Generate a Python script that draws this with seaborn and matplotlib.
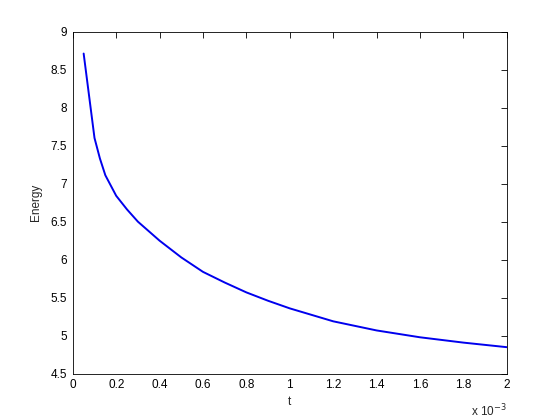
import numpy as np
import pandas as pd
import seaborn as sns
import matplotlib
matplotlib.use('Agg')
import matplotlib.pyplot as plt
from matplotlib.ticker import FuncFormatter

# 값은 그림에서 읽어낸 추정치 (t 는 10^-3 단위)
t_scaled = [0.05, 0.1, 0.125, 0.15, 0.2, 0.25, 0.3, 0.4, 0.5, 0.6, 0.7, 0.8,
            0.9, 1.0, 1.2, 1.4, 1.6, 1.8, 2.0]
energy = [8.71, 7.60, 7.33, 7.11, 6.84, 6.66, 6.50, 6.25, 6.03, 5.84, 5.70,
          5.57, 5.46, 5.36, 5.19, 5.07, 4.98, 4.91, 4.85]
x_ticks = [0, 0.2, 0.4, 0.6, 0.8, 1.0, 1.2, 1.4, 1.6, 1.8, 2.0]
y_ticks = [4.5, 5, 5.5, 6, 6.5, 7, 7.5, 8, 8.5, 9]

df = pd.DataFrame({'t': np.array(t_scaled) * 1e-3, 'Energy': energy})

sns.set_style('white')
plt.rcParams['font.family'] = ['Liberation Sans', 'DejaVu Sans']
plt.rcParams['font.size'] = 8.5

fig = plt.figure(figsize=(5.6, 4.2), dpi=100)
ax = fig.add_axes([0.13, 0.11, 0.775, 0.815])

sns.lineplot(data=df, x='t', y='Energy', color='#0000ee', linewidth=1.4, ax=ax)

ax.set_xlim(0, 2e-3)
ax.set_ylim(4.5, 9)
ax.set_xticks(np.array(x_ticks) * 1e-3)
ax.set_yticks(y_ticks)
ax.xaxis.set_major_formatter(FuncFormatter(lambda v, p: '%g' % round(v * 1e3, 6)))
ax.yaxis.set_major_formatter(FuncFormatter(lambda v, p: '%g' % v))
ax.tick_params(direction='in', length=4, width=0.6, top=True, right=True,
               labelsize=8.5, colors='black', pad=4)
for s in ax.spines.values():
    s.set_color('black')
    s.set_linewidth(0.6)

ax.set_xlabel('t', fontsize=8.5, labelpad=3)
ax.set_ylabel('Energy', fontsize=8.5, labelpad=6)
ax.text(1.0, -0.085, r'x 10$^{-3}$', transform=ax.transAxes, ha='right', va='top', fontsize=8.5)

fig.savefig('out.png', dpi=100, facecolor='white')
